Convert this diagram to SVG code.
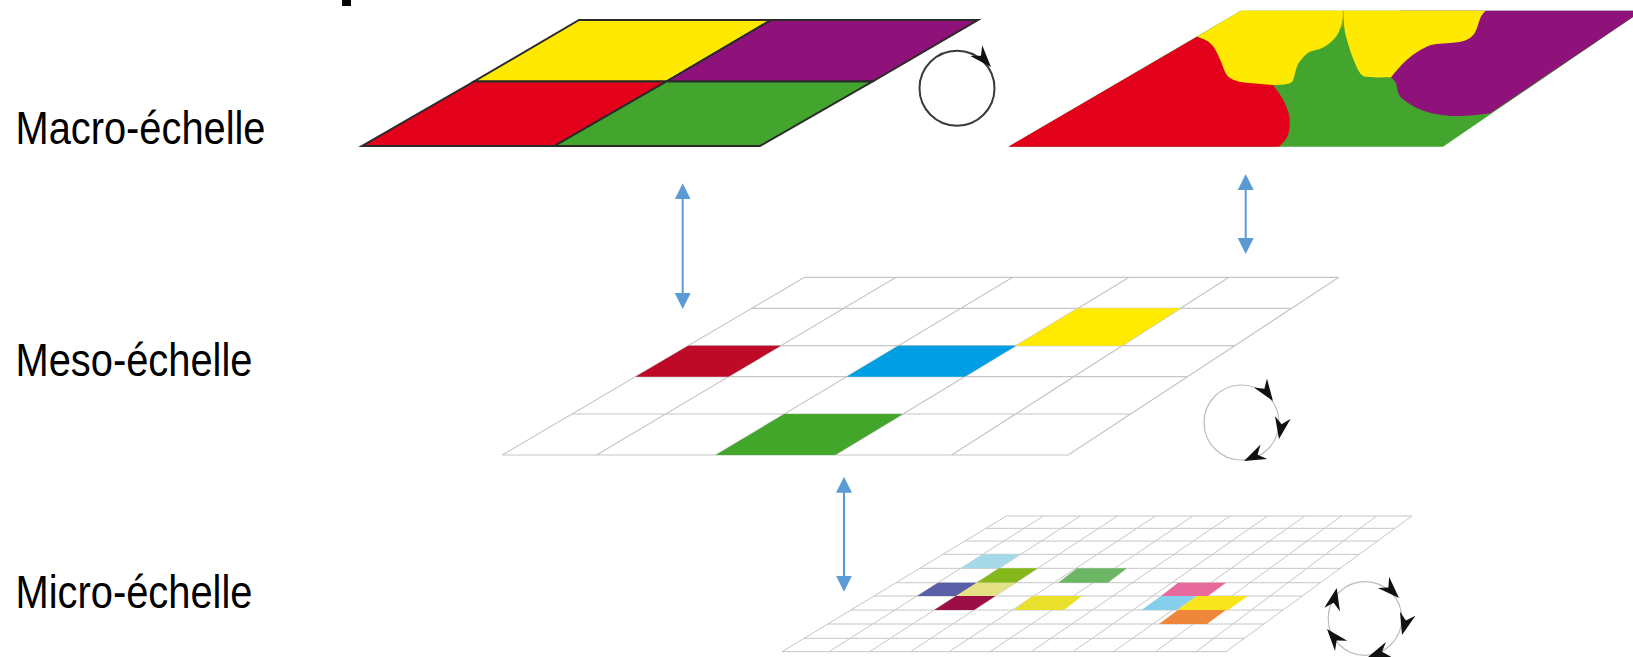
<svg xmlns="http://www.w3.org/2000/svg" xmlns:xlink="http://www.w3.org/1999/xlink" width="1633" height="657" viewBox="0 0 1633 657">
<style>
.lbl{font-family:"Liberation Sans",Arial,sans-serif;font-size:47px;fill:#000}
.mac{stroke:#2a2a2a;stroke-width:2;stroke-linejoin:miter}
.grid{stroke:#c6c6c6;stroke-width:1.2;fill:none}
.mgrid{stroke:#c6c6c6;stroke-width:1;fill:none}
.conn{stroke:#5b9bd5;stroke-width:2;fill:none;marker-start:url(#bh);marker-end:url(#bh)}
.rotd{fill:none;stroke:#3a3a3a;stroke-width:2}
.rotl{fill:none;stroke:#bdbdbd;stroke-width:1.2}
</style>
<defs>
<marker id="bh" markerUnits="userSpaceOnUse" markerWidth="16" markerHeight="16" viewBox="0 0 16 16" refX="6" refY="8" orient="auto-start-reverse"><path d="M0,0 L16,8 L0,16 Z" fill="#5b9bd5"/></marker>
<path id="ah" d="M0,0 L-22,-8 L-15,0 L-22,8 Z" fill="#111"/>
</defs>
<rect width="1633" height="657" fill="#fff"/>
<rect x="342" y="0" width="9" height="6" fill="#000"/>

<g id="label-macro"><text class="lbl" x="15.5" y="144.3" textLength="250" lengthAdjust="spacingAndGlyphs">Macro-échelle</text></g>
<g id="label-meso"><text class="lbl" x="15.5" y="375.7" textLength="237" lengthAdjust="spacingAndGlyphs">Meso-échelle</text></g>
<g id="label-micro"><text class="lbl" x="15.5" y="607.9" textLength="237" lengthAdjust="spacingAndGlyphs">Micro-échelle</text></g>

<g id="macro-initial">
<polygon class="mac" fill="#ffe900" points="579,20 771,20 666.5,81.5 474,81.5"/>
<polygon class="mac" fill="#8f127a" points="771,20 978,20 872.5,81.5 666.5,81.5"/>
<polygon class="mac" fill="#e2001a" points="474,81.5 666.5,81.5 554.5,146 362,146"/>
<polygon class="mac" fill="#43a42e" points="666.5,81.5 872.5,81.5 760,146 554.5,146"/>
</g>

<g id="macro-rotation">
<circle class="rotd" cx="957" cy="88.3" r="37.5"/>
<use xlink:href="#ah" transform="translate(991,67) rotate(48)"/>
</g>

<g id="macro-evolved">
<path fill="#43a42e" d="M1008.4,146.7 L1240.9,10.7 L1633,10.7 L1633,17 L1443,146.7 Z"/>
<path fill="#e2001a" d="M1008.4,146.7 L1197,36.7 L1230,50 L1265,70 L1272.9,85 C1281,95 1287,105 1289,115 C1291,125 1289,133 1287.3,137 C1285,141 1282,144 1279,146.7 Z"/>
<path fill="#ffe900" d="M1197,36.7 L1240.9,10.7 L1343.4,10.7 C1343,20 1341.5,26 1339,31.7 C1336,38 1330,44 1322,48 C1318,50 1314,50 1309.8,51.7 C1306,53.5 1303,57 1299.6,61.7 C1296,66 1295,75 1293,80.5 C1291,84 1285,85 1272.9,85 L1252.4,83.3 C1244,83 1234,81.5 1228,76.5 C1225,73 1223.5,68.5 1221.7,63.3 C1219.5,58 1217,52 1213.5,46.7 C1210,42 1204,38 1197,36.7 Z"/>
<path fill="#8f127a" d="M1486.1,10.7 L1633,10.7 L1633,17 L1490.2,113.3 C1485,114 1475,115.5 1460,116 C1445,116.5 1432,114 1420,109.5 C1414,107 1409,104 1404.1,100 C1399,97 1397.5,92 1396.5,85 C1395.9,82 1394,80 1391,77.3 L1375,60 L1400,10.7 Z"/>
<path fill="#ffe900" d="M1343.4,10.7 L1486.1,10.7 C1481,14 1479.5,20 1478,25 C1476,32 1473,37 1467.7,39.3 C1462,42 1458,42.5 1450,43 C1440,43.5 1432,44 1426.7,46.7 C1417,51 1408,58 1400,66.7 C1395,72 1392,76 1391,77.3 C1375,77.5 1366,77.5 1363.1,76 C1359,73 1357,68.3 1355,63 C1352,57 1349,47 1346,36.7 C1344,29 1343.4,20 1343.4,10.7 Z"/>
<path d="M1343.4,10.7 C1343.4,18 1343,24 1341.8,28" fill="none" stroke="#c9a800" stroke-width="0.8"/>
</g>

<g id="meso-grid">
<path class="grid" d="M804.6,277.3 H1338.9 M751.9,308.3 H1291.7 M688.2,345.7 H1234.7 M635.4,376.7 H1187.4 M572,414 H1130.6 M502.2,455 H1068.1 M804.6,277.3 L502.2,455 M896.1,277.3 L596.5,455 M1012.7,277.3 L715.8,455 M1129.2,277.3 L835.1,455 M1229,277.3 L951.6,455 M1338.9,277.3 L1068.1,455"/>
<polygon fill="#be0a26" points="688.2,345.7 780.8,345.7 728.5,376.7 635.4,376.7"/>
<polygon fill="#009fe3" points="898.4,345.7 1016,345.7 964.7,376.7 846.6,376.7"/>
<polygon fill="#ffea00" points="1077.9,308.3 1180.6,308.3 1122.2,345.7 1016,345.7"/>
<polygon fill="#41a62a" points="784.3,414 902.9,414 835.1,455 715.8,455"/>
</g>

<g id="meso-rotation">
<circle class="rotl" cx="1241.5" cy="422.5" r="37.5"/>
<use xlink:href="#ah" transform="translate(1273,401) rotate(55)"/>
<use xlink:href="#ah" transform="translate(1279,439) rotate(100)"/>
<use xlink:href="#ah" transform="translate(1244,461) rotate(155)"/>
</g>

<g id="micro-grid">
<path class="mgrid" d="M1006.3,516 H1411.8 M986,528.3 H1395 M965,541 H1377.6 M943,554.3 H1359.4 M919.9,568.3 H1340.2 M896.1,582.7 H1320.5 M874.1,596 H1302.3 M851,610 H1283.1 M827.8,624 H1263.9 M804.1,638.3 H1244.3 M782,651.7 H1226 M1006.3,516 L782,651.7 M1043.5,516 L829,651.7 M1080.3,516 L869.5,651.7 M1117.4,516 L910.5,651.7 M1155.6,516 L949,651.7 M1192.9,516 L990,651.7 M1230.2,516 L1031.3,651.7 M1267.5,516 L1073,651.7 M1304.8,516 L1113.7,651.7 M1341.4,516 L1155.5,651.7 M1376.6,516 L1196,651.7 M1411.8,516 L1226,651.7"/>
<polygon fill="#a6d9e8" points="983,554.3 1020.8,554.3 999.1,568.3 960.8,568.3"/>
<polygon fill="#85b81a" points="999.1,568.3 1037.7,568.3 1015.7,582.7 976.7,582.7"/>
<polygon fill="#6db665" points="1077,568.3 1127,568.3 1108,582.7 1058,582.7"/>
<polygon fill="#5a5ea6" points="938.1,582.7 976.7,582.7 956,596 917.1,596"/>
<polygon fill="#e4e285" points="976.7,582.7 1015.7,582.7 995.4,596 956,596"/>
<polygon fill="#9c0e46" points="956,596 995.4,596 974.1,610 934.3,610"/>
<polygon fill="#e8e02a" points="1032,596 1082,596 1064,610 1014,610"/>
<polygon fill="#e8699b" points="1178,582.7 1226,582.7 1208,596 1161,596"/>
<polygon fill="#86cfec" points="1161,596 1197,596 1177,610 1141.5,610"/>
<polygon fill="#f8e51b" points="1197,596 1248,596 1228,610 1177,610"/>
<polygon fill="#ee873b" points="1178,610 1226,610 1207,624 1159,624"/>
</g>

<g id="micro-rotation">
<circle class="rotl" cx="1365" cy="618.5" r="36.8"/>
<use xlink:href="#ah" transform="translate(1399,598) rotate(45)"/>
<use xlink:href="#ah" transform="translate(1402,635) rotate(105)"/>
<use xlink:href="#ah" transform="translate(1368,657) rotate(160)"/>
<use xlink:href="#ah" transform="translate(1327,629) rotate(-130)"/>
<use xlink:href="#ah" transform="translate(1336.7,588) rotate(-78)"/>
</g>

<g id="connectors">
<line class="conn" x1="682.7" y1="193.3" x2="682.7" y2="299"/>
<line class="conn" x1="1245.7" y1="184" x2="1245.7" y2="244"/>
<line class="conn" x1="844" y1="486.7" x2="844" y2="581.7"/>
</g>
</svg>
